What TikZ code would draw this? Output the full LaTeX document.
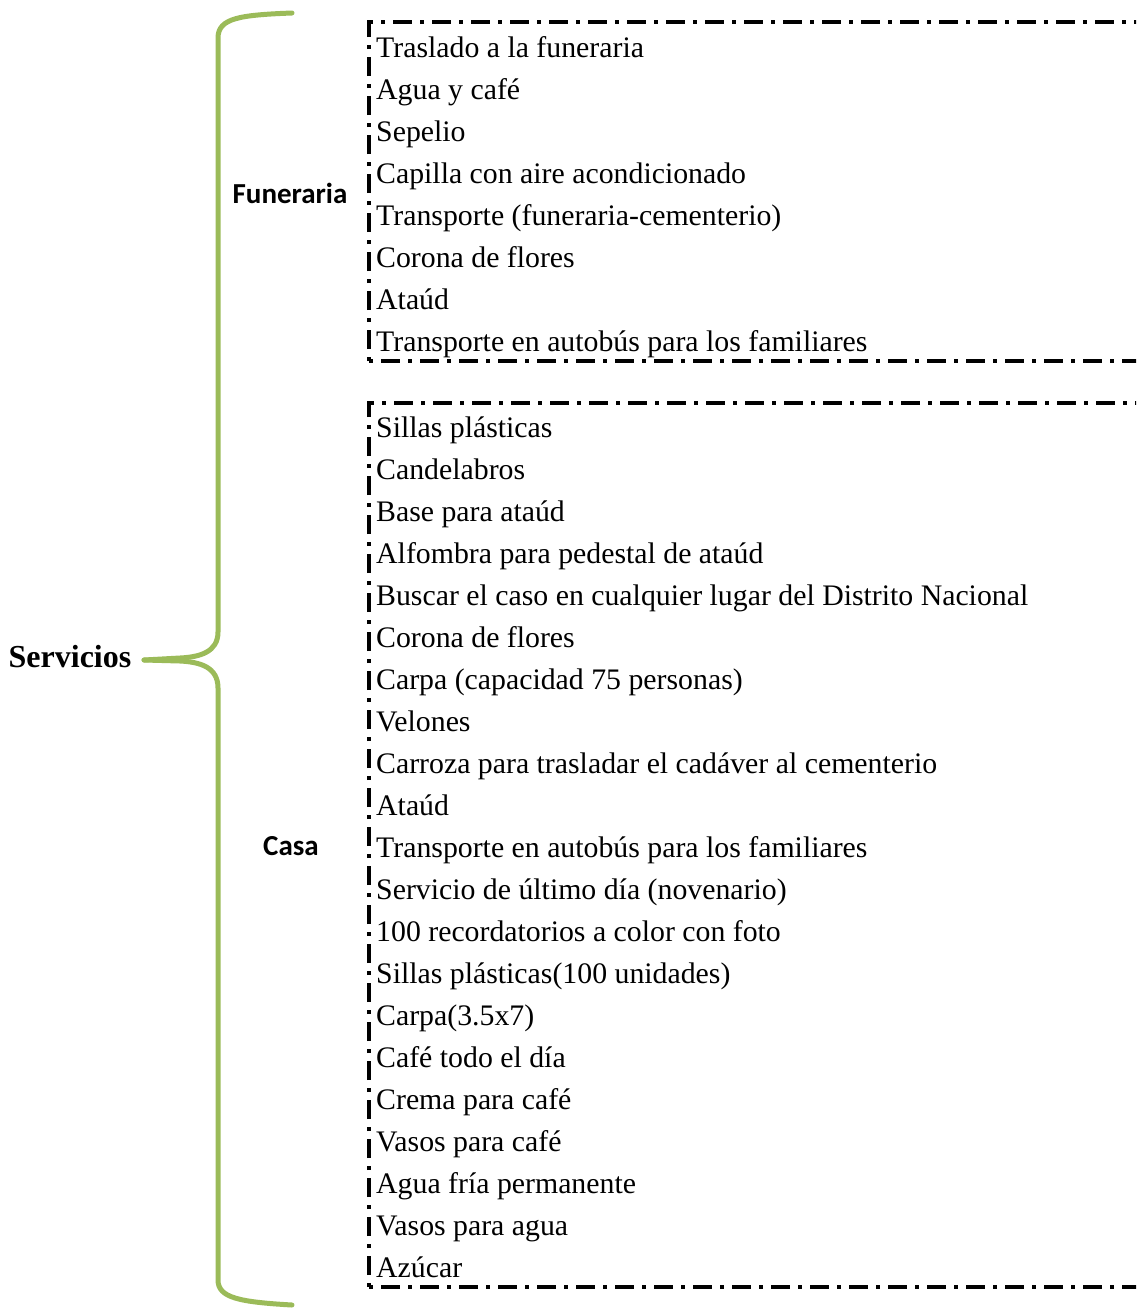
\documentclass[tikz,border=0pt]{standalone}
\usepackage{fontspec}
\setmainfont{Liberation Serif}
\newfontfamily\calfont{Carlito}
\definecolor{bracegreen}{RGB}{155,187,89}
\begin{document}
\begin{tikzpicture}[x=1pt,y=-1pt,
  item/.style={anchor=base west,inner sep=0pt,font=\fontsize{29.8}{29.8}\selectfont},
  grouplabel/.style={inner sep=0pt,font=\calfont\bfseries\fontsize{29}{29}\selectfont},
  dashbox/.style={draw=black,line width=3.5pt,dash pattern=on 4pt off 8pt on 19pt off 8pt},
  bracepath/.style={draw=bracegreen,line width=5pt,line cap=round}]
\useasboundingbox (0,0) rectangle (1136,1309);
\begin{scope}
\clip (0,0) rectangle (1136,1309);
\draw[dashbox] (369,361) -- (369,22) -- (1160,22);
\draw[dashbox] (369,361) -- (1160,361);
\draw[dashbox] (369,1287) -- (369,403) -- (1160,403);
\draw[dashbox] (369,1287) -- (1160,1287);
\end{scope}
% brace
\node[inner sep=0pt,font=\bfseries\fontsize{32}{32}\selectfont] (serv) at (70,657) {Servicios};
\coordinate (tip) at (144,660);
\draw[bracepath] (292,13) .. controls (240,15) and (218,18) .. (218,38)
  -- (218,632) .. controls (218,652) and (200,657) .. (180,658) -- (tip);
\draw[bracepath] (tip) -- (180,661) .. controls (200,662) and (218,667) .. (218,688)
  -- (218,1280) .. controls (218,1298) and (240,1302) .. (292,1305);
\node[grouplabel] (fun) at (290,193) {Funeraria};
\node[grouplabel] (casa) at (291,846) {Casa};
% Funeraria items
\foreach \t [count=\i] in {Traslado a la funeraria,Agua y café,Sepelio,Capilla con aire acondicionado,Transporte (funeraria-cementerio),Corona de flores,Ataúd,Transporte en autobús para los familiares}
  \node[item] (f\i) at (376,{47+42*(\i-1)+10}) {\t};
% Casa items
\foreach \t [count=\i] in {Sillas plásticas,Candelabros,Base para ataúd,Alfombra para pedestal de ataúd,Buscar el caso en cualquier lugar del Distrito Nacional,Corona de flores,Carpa (capacidad 75 personas),Velones,Carroza para trasladar el cadáver al cementerio,Ataúd,Transporte en autobús para los familiares,Servicio de último día (novenario),100 recordatorios a color con foto,Sillas plásticas(100 unidades),Carpa(3.5x7),Café todo el día,Crema para café,Vasos para café,Agua fría permanente,Vasos para agua,Azúcar}
  \node[item] (c\i) at (376,{427+42*(\i-1)+10}) {\t};
\end{tikzpicture}
\end{document}
